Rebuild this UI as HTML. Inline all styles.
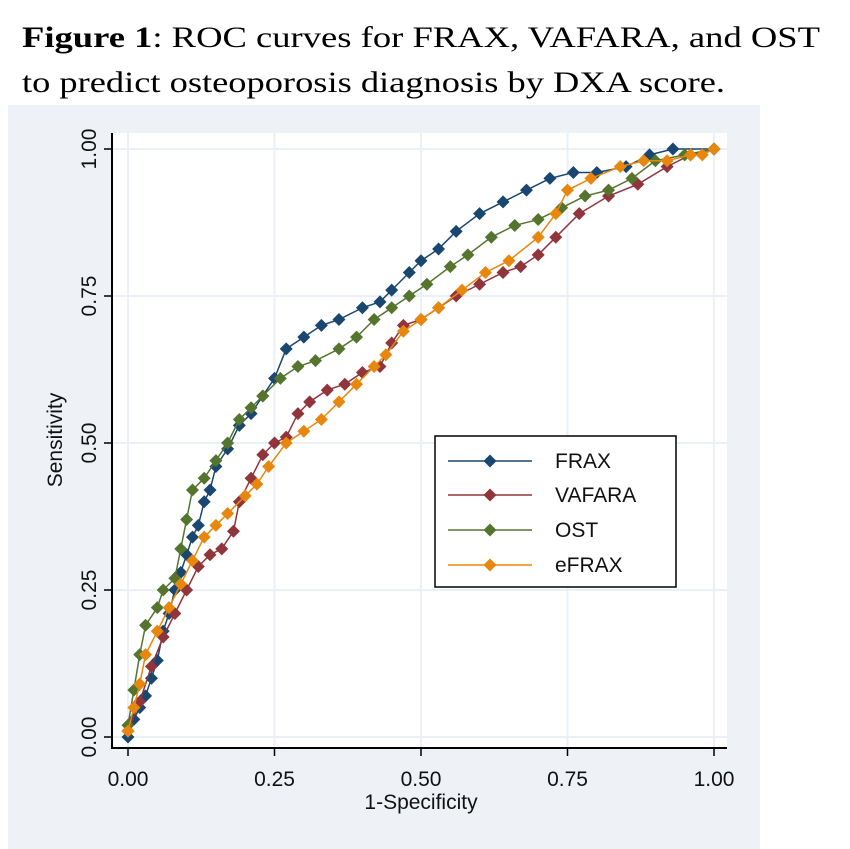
<!DOCTYPE html>
<html><head><meta charset="utf-8"><style>
body{margin:0;background:#fff;width:850px;height:849px;overflow:hidden}
svg{display:block}
</style></head><body>
<svg width="850" height="849" viewBox="0 0 850 849" xmlns="http://www.w3.org/2000/svg">
<text x="22" y="47" font-family="Liberation Serif, serif" font-size="30" fill="#000" textLength="798" lengthAdjust="spacingAndGlyphs"><tspan font-weight="bold">Figure 1</tspan>: ROC curves for FRAX, VAFARA, and OST</text>
<text x="22" y="92" font-family="Liberation Serif, serif" font-size="30" fill="#000" textLength="703" lengthAdjust="spacingAndGlyphs">to predict osteoporosis diagnosis by DXA score.</text>
<rect x="8" y="105" width="752" height="744" fill="#eef2f7"/>
<rect x="112" y="133" width="615" height="615" fill="#fff"/>
<g id="grid"></g>
<g id="axes"></g>
<g id="series"></g>
<text x="421" y="809" text-anchor="middle" font-family="Liberation Sans, sans-serif" font-size="21" fill="#111">1-Specificity</text>
<text transform="translate(62,440) rotate(-90)" text-anchor="middle" font-family="Liberation Sans, sans-serif" font-size="21" fill="#111">Sensitivity</text>
<g id="legend">
<rect x="435" y="436" width="241" height="151" fill="#fff" stroke="#000" stroke-width="1.5"/>
</g>
</svg>
<script>
const ticks=[0,0.25,0.5,0.75,1];
const tickLabels=["0.00","0.25","0.50","0.75","1.00"];
const seriesNames=["FRAX","VAFARA","OST","eFRAX"];
const seriesColors=["#1a476f","#90353b","#55752f","#e8870e"];
const fraxX=[0,0.01,0.02,0.03,0.04,0.05,0.06,0.07,0.08,0.09,0.1,0.11,0.12,0.13,0.14,0.15,0.17,0.19,0.21,0.23,0.25,0.27,0.3,0.33,0.36,0.4,0.43,0.45,0.48,0.5,0.53,0.56,0.6,0.64,0.68,0.72,0.76,0.8,0.85,0.89,0.93,1];
const fraxY=[0,0.03,0.05,0.07,0.1,0.13,0.18,0.21,0.25,0.28,0.31,0.34,0.36,0.4,0.42,0.46,0.49,0.53,0.55,0.58,0.61,0.66,0.68,0.7,0.71,0.73,0.74,0.76,0.79,0.81,0.83,0.86,0.89,0.91,0.93,0.95,0.96,0.96,0.97,0.99,1,1];
const vafaraX=[0,0.02,0.04,0.06,0.08,0.1,0.12,0.14,0.16,0.18,0.19,0.21,0.23,0.25,0.27,0.29,0.31,0.34,0.37,0.4,0.43,0.45,0.47,0.5,0.53,0.56,0.6,0.64,0.67,0.7,0.73,0.77,0.82,0.87,0.92,0.96,1];
const vafaraY=[0.01,0.06,0.12,0.17,0.21,0.25,0.29,0.31,0.32,0.35,0.4,0.44,0.48,0.5,0.51,0.55,0.57,0.59,0.6,0.62,0.63,0.67,0.7,0.71,0.73,0.75,0.77,0.79,0.8,0.82,0.85,0.89,0.92,0.94,0.97,0.99,1];
const ostX=[0,0.01,0.02,0.03,0.05,0.06,0.08,0.09,0.1,0.11,0.13,0.15,0.17,0.19,0.21,0.23,0.26,0.29,0.32,0.36,0.39,0.42,0.45,0.48,0.51,0.55,0.58,0.62,0.66,0.7,0.74,0.78,0.82,0.86,0.9,0.95,1];
const ostY=[0.02,0.08,0.14,0.19,0.22,0.25,0.27,0.32,0.37,0.42,0.44,0.47,0.5,0.54,0.56,0.58,0.61,0.63,0.64,0.66,0.68,0.71,0.73,0.75,0.77,0.8,0.82,0.85,0.87,0.88,0.9,0.92,0.93,0.95,0.98,0.99,1];
const efraxX=[0,0.01,0.02,0.03,0.05,0.07,0.09,0.11,0.13,0.15,0.17,0.2,0.22,0.24,0.27,0.3,0.33,0.36,0.39,0.42,0.44,0.47,0.5,0.53,0.57,0.61,0.65,0.7,0.73,0.75,0.79,0.84,0.88,0.92,0.96,0.98,1];
const efraxY=[0.01,0.05,0.09,0.14,0.18,0.22,0.26,0.3,0.34,0.36,0.38,0.41,0.43,0.46,0.5,0.52,0.54,0.57,0.6,0.63,0.65,0.69,0.71,0.73,0.76,0.79,0.81,0.85,0.89,0.93,0.95,0.97,0.98,0.98,0.99,0.99,1];
const NS="http://www.w3.org/2000/svg";
function sx(v){return 128+v*586;}
function sy(v){return 737-v*588;}
function mk(tag,attrs,parent){const e=document.createElementNS(NS,tag);for(const k in attrs)e.setAttribute(k,attrs[k]);parent.appendChild(e);return e;}
const grid=document.getElementById('grid'),axes=document.getElementById('axes'),ser=document.getElementById('series'),leg=document.getElementById('legend');
ticks.forEach((t,i)=>{
 let g1=mk('line',{x1:sx(t),x2:sx(t),y1:133,y2:748,stroke:'#eaf0f5','stroke-width':2},grid);
 
 
 let g2=mk('line',{x1:112,x2:727,y1:sy(t),y2:sy(t),stroke:'#eaf0f5','stroke-width':2},grid);
 
 
 let tx=mk('line',{x1:sx(t),x2:sx(t),y1:748,y2:756,stroke:'#000','stroke-width':1.5},axes);
 
 
 let ty=mk('line',{x1:104,x2:112,y1:sy(t),y2:sy(t),stroke:'#000','stroke-width':1.5},axes);
 
 
 let lx=mk('text',{x:sx(t),y:786,'text-anchor':'middle','font-family':'Liberation Sans, sans-serif','font-size':21,fill:'#111'},axes);
 lx.textContent=tickLabels[i];
 
 
 let ly=mk('text',{transform:`translate(96,${sy(t)}) rotate(-90)`,'text-anchor':'middle','font-family':'Liberation Sans, sans-serif','font-size':21,fill:'#111'},axes);
 ly.textContent=tickLabels[i];
 
 
});
let ax=mk('line',{x1:112,x2:112,y1:133,y2:749,stroke:'#000','stroke-width':2},axes);


let ax2=mk('line',{x1:111,x2:727,y1:748,y2:748,stroke:'#000','stroke-width':2},axes);


function diamond(cx,cy,r){return `${cx},${cy-r} ${cx+r},${cy} ${cx},${cy+r} ${cx-r},${cy}`;}
const allX=[fraxX,vafaraX,ostX,efraxX],allY=[fraxY,vafaraY,ostY,efraxY];
allX.forEach((xs,s)=>{
 const ys=allY[s];const g=mk('g',{},ser);
 
 
 const pl=mk('polyline',{points:xs.map((x,i)=>sx(x)+','+sy(ys[i])).join(' '),fill:'none',stroke:seriesColors[s],'stroke-width':1.5},g);
 
 
 xs.forEach((x,i)=>{
  const p=mk('polygon',{points:diamond(sx(x),sy(ys[i]),6.5),fill:seriesColors[s]},g);
  
  
 });
});
const legY=[461,495,530,565];
seriesNames.forEach((n,s)=>{
 const g=mk('g',{},leg);
 
 
 mk('line',{x1:448,x2:532,y1:legY[s],y2:legY[s],stroke:seriesColors[s],'stroke-width':1.5},g);
 mk('polygon',{points:diamond(490,legY[s],6.5),fill:seriesColors[s]},g);
 const t=mk('text',{x:555,y:legY[s]+7,'font-family':'Liberation Sans, sans-serif','font-size':21,fill:'#111'},g);
 t.textContent=n;
});
</script>
</body></html>
